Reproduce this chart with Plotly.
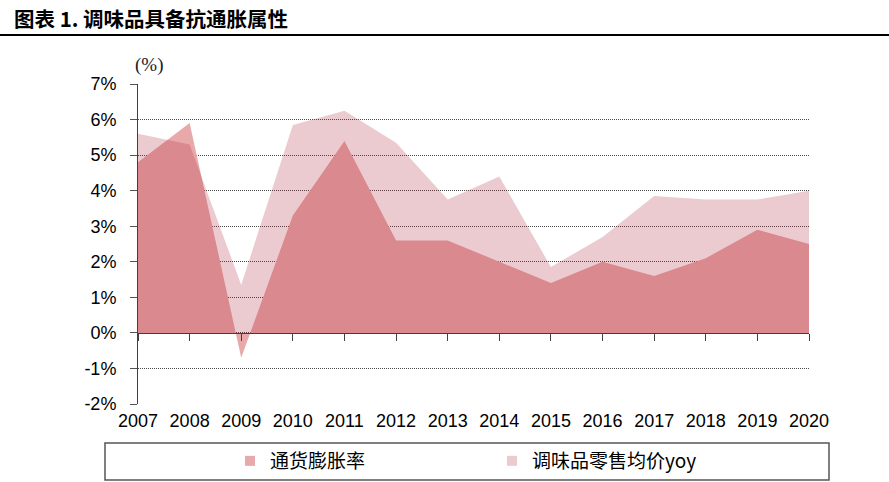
import plotly.graph_objects as go

# ---- data ----
years = list(range(2007, 2021))
cpi = [4.8, 5.9, -0.7, 3.3, 5.4, 2.6, 2.6, 2.0, 1.4, 2.0, 1.6, 2.1, 2.9, 2.5]
seasoning = [5.6, 5.3, 1.35, 5.85, 6.25, 5.35, 3.75, 4.4, 1.85, 2.7, 3.85, 3.75, 3.75, 4.0]
ytick_vals = [-2, -1, 0, 1, 2, 3, 4, 5, 6, 7]
ytick_text = ["-2%", "-1%", "0%", "1%", "2%", "3%", "4%", "5%", "6%", "7%"]
series_names = ["通货膨胀率", "调味品零售均价yoy"]
title_text = "图表 1. 调味品具备抗通胀属性"
unit_text = "(%)"

# ---- layout geometry ----
W, H = 889, 482
L, R, T, B = 138, 80, 84, 78
PW, PH = W - L - R, H - T - B


def px2x(px):
    return (px - L) / PW


def px2y(py):
    return 1 - (py - T) / PH


DARK = "#E8A9AA"
LIGHT = "rgba(172,29,50,0.23)"
FONT = "Liberation Sans, Arial, sans-serif"
CJK = "Noto Sans CJK SC"

fig = go.Figure()

# dark (inflation) area, opaque, main axes
fig.add_trace(go.Scatter(
    x=years, y=cpi, name=series_names[0], mode="none",
    fill="tozeroy", fillcolor=DARK, showlegend=False,
    xaxis="x", yaxis="y", hoverinfo="skip"))

# light (seasoning) area, translucent, overlay axes (drawn on top)
fig.add_trace(go.Scatter(
    x=years, y=seasoning, name=series_names[1], mode="none",
    fill="tozeroy", fillcolor=LIGHT, showlegend=False,
    xaxis="x2", yaxis="y", hoverinfo="skip"))

# legend entries (square markers)
fig.add_trace(go.Scatter(
    x=[None], y=[None], name=series_names[0], mode="markers",
    marker=dict(symbol="square", size=10, color=DARK),
    legend="legend", xaxis="x", yaxis="y"))
fig.add_trace(go.Scatter(
    x=[None], y=[None], name=series_names[1], mode="markers",
    marker=dict(symbol="square", size=10, color=LIGHT),
    legend="legend2", xaxis="x", yaxis="y"))

zero_pos = (0 - ytick_vals[0]) / (ytick_vals[-1] - ytick_vals[0])

fig.update_layout(
    width=W, height=H,
    margin=dict(l=L, r=R, t=T, b=B, autoexpand=False),
    paper_bgcolor="white", plot_bgcolor="white",
    xaxis=dict(
        range=[years[0], years[-1]], tickvals=years,
        ticktext=[str(y) for y in years],
        showline=False, showgrid=False, zeroline=False, ticks="",
        tickfont=dict(family=FONT, size=18, color="black"),
        ticklabelstandoff=4, fixedrange=True),
    xaxis2=dict(
        range=[years[0], years[-1]], tickvals=years,
        overlaying="x", anchor="free", position=zero_pos, side="bottom",
        showline=True, linecolor="#404040", linewidth=1,
        ticks="outside", ticklen=7, tickcolor="#404040", tickwidth=1,
        showticklabels=False, showgrid=False, zeroline=False,
        fixedrange=True),
    yaxis=dict(
        range=[ytick_vals[0], ytick_vals[-1]], tickvals=ytick_vals,
        ticktext=ytick_text,
        showline=True, linecolor="#404040", linewidth=1,
        ticks="outside", ticklen=7, tickcolor="#555555", tickwidth=1,
        showgrid=True, gridcolor="#4a4a4a", gridwidth=1, griddash="1px,1px",
        zeroline=False,
        tickfont=dict(family=FONT, size=18, color="black"),
        ticklabelstandoff=10, fixedrange=True),
    legend=dict(
        orientation="h", x=px2x(230), xanchor="left",
        y=px2y(461), yanchor="middle", bgcolor="rgba(0,0,0,0)",
        font=dict(family=CJK, size=19, color="black"),
        itemwidth=30),
    legend2=dict(
        orientation="h", x=px2x(492), xanchor="left",
        y=px2y(461), yanchor="middle", bgcolor="rgba(0,0,0,0)",
        font=dict(family=CJK, size=19, color="black"),
        itemwidth=30),
    shapes=[
        dict(type="line", xref="paper", yref="paper",
             x0=px2x(0), x1=px2x(889), y0=px2y(35), y1=px2y(35),
             line=dict(color="black", width=2)),
        dict(type="rect", xref="paper", yref="paper",
             x0=px2x(105), x1=px2x(829), y0=px2y(443), y1=px2y(480),
             line=dict(color="#555555", width=1.5)),
    ],
    annotations=[
        dict(text="<b>" + title_text + "</b>", xref="paper", yref="paper",
             x=px2x(12), y=px2y(18), xanchor="left", yanchor="middle",
             showarrow=False, font=dict(family=CJK, size=20.5, color="black")),
        dict(text=unit_text, xref="paper", yref="paper",
             x=px2x(149), y=px2y(65), xanchor="center", yanchor="middle",
             showarrow=False,
             font=dict(family="Liberation Serif, serif", size=19, color="#222222")),
    ],
)

fig.write_html(
    "out.html",
    config={"displayModeBar": False},
    post_script=(
        "document.body.style.margin='0';"
        "document.body.style.overflow='hidden';"
        "var d=document.getElementById('{plot_id}');"
        "d.style.position='fixed';d.style.top='0';d.style.left='0';"
    ),
)
